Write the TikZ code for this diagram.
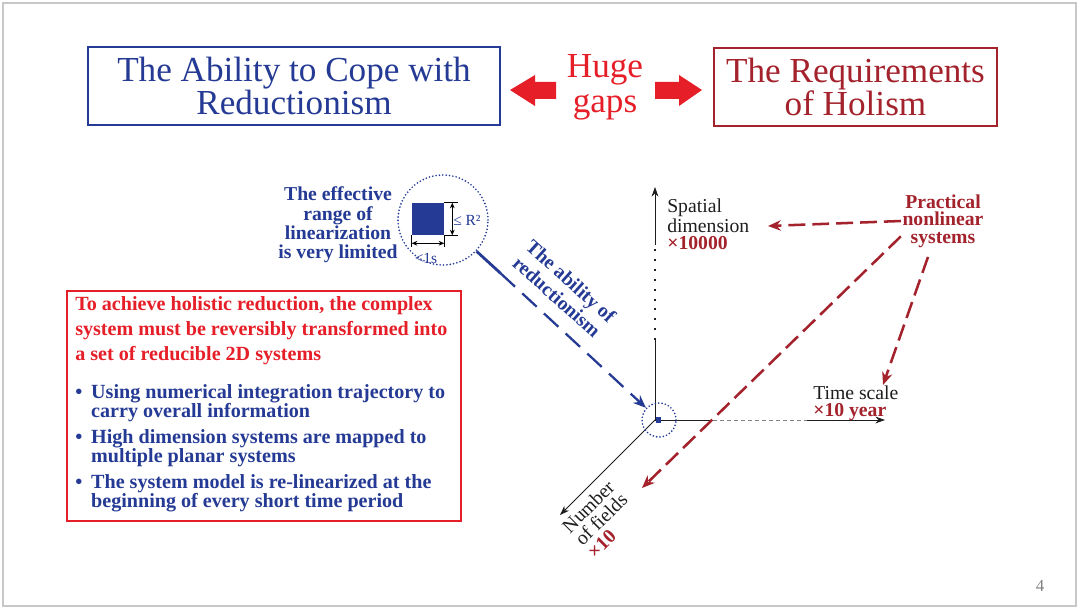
\documentclass[tikz,border=0pt]{standalone}
\usepackage{fontspec}
\setmainfont{Liberation Serif}
\usepackage{tikz}
\usetikzlibrary{arrows.meta, positioning, calc}

\definecolor{reducblue}{RGB}{36, 58, 148}
\definecolor{gapred}{RGB}{230, 30, 40}
\definecolor{holred}{RGB}{163, 34, 44}
\definecolor{framegray}{RGB}{200, 200, 200}
\definecolor{axisgray}{RGB}{30, 30, 30}

\newcommand{\notebullet}{\makebox[11.3pt][l]{•}}
\newcommand{\noteindent}{\hspace*{11.3pt}}

\tikzset{
    titlebox/.style={draw, rectangle, line width=1.5pt, minimum height=1.95cm, inner sep=0pt, align=center, font=\fontsize{25}{24}\selectfont},
    reducbox/.style={titlebox, draw=reducblue, text=reducblue, minimum width=10.3cm},
    holbox/.style={titlebox, draw=holred, text=holred, minimum width=7.075cm},
    notebox/.style={draw=gapred, line width=1.5pt, rectangle, minimum width=9.85cm, minimum height=5.75cm, inner sep=0pt},
    boldlabel/.style={font=\bfseries\fontsize{14}{14}\selectfont, align=center, inner sep=1pt},
    axislabel/.style={font=\fontsize{14}{12}\selectfont, text=axisgray, align=left, inner sep=0pt},
    axisline/.style={-{Stealth[length=2.4mm, width=1.7mm]}, line width=0.6pt, draw=axisgray},
    reddash/.style={-{Stealth[length=3.2mm, width=2.6mm]}, line width=1.8pt, draw=holred, dash pattern=on 12pt off 5pt},
    bluedash/.style={-{Stealth[length=3.2mm, width=2.6mm]}, line width=1.6pt, draw=reducblue, dash pattern=on 14pt off 7pt},
    dotcircle/.style={circle, draw=reducblue, line width=1.3pt, dash pattern=on 0pt off 2.4pt, line cap=round, inner sep=0pt},
    dimarrow/.style={{Stealth[length=1.4mm, width=1.2mm]}-{Stealth[length=1.4mm, width=1.2mm]}, line width=0.5pt},
}

\begin{document}
\begin{tikzpicture}[x=0.025cm, y=-0.025cm]
    \useasboundingbox (0,0) rectangle (1080,610);
    \fill[white] (0,0) rectangle (1080,610);
    \draw[framegray, line width=1pt] (3,3) rectangle (1076,606);

    % Title row
    \node[reducbox] (reduc) at (294,86) {The Ability to Cope with\\Reductionism};
    \node[holbox] (holism) at (855.5,87) {The Requirements\\of Holism};
    \node[font=\fontsize{25}{25}\selectfont, text=gapred, align=center, inner sep=0pt] (gaps) at (605,87) {Huge\\gaps};
    \fill[gapred] (510,90) -- (535,75) -- (535,82) -- (556,82) -- (556,99) -- (535,99) -- (535,106) -- cycle;
    \fill[gapred] (702,90) -- (679,75) -- (679,82) -- (655,82) -- (655,99) -- (679,99) -- (679,106) -- cycle;

    % Conclusion box
    \node[notebox] (note) at (264,406) {};
    \node[anchor=north west, align=left, inner sep=0pt, font=\bfseries\fontsize{14.3}{13.5}\selectfont] (notetext) at (75,296) {%
        \textcolor{gapred}{To achieve holistic reduction, the complex}\\[4.2pt]
        \textcolor{gapred}{system must be reversibly transformed into}\\[4.2pt]
        \textcolor{gapred}{a set of reducible 2D systems}\\[14pt]
        \textcolor{reducblue}{\notebullet Using numerical integration trajectory to}\\
        \textcolor{reducblue}{\noteindent carry overall information}\\[4.9pt]
        \textcolor{reducblue}{\notebullet High dimension systems are mapped to}\\
        \textcolor{reducblue}{\noteindent multiple planar systems}\\[4.9pt]
        \textcolor{reducblue}{\notebullet The system model is re-linearized at the}\\
        \textcolor{reducblue}{\noteindent beginning of every short time period}};

    % Magnifier
    \node[dotcircle, minimum size=2.25cm] (lens) at (443,220) {};
    \node[fill=reducblue, minimum width=0.8cm, minimum height=0.8cm, inner sep=0pt] (patch) at (428,219) {};
    \draw[line width=0.4pt] (patch.north east) -- ++(14,0);
    \draw[line width=0.4pt] (patch.south east) -- ++(14,0);
    \draw[dimarrow] ($(patch.north east)+(8,0)$) -- ($(patch.south east)+(8,0)$);
    \draw[line width=0.4pt] (patch.south west) -- ++(0,12);
    \draw[line width=0.4pt] (patch.south east) -- ++(0,12);
    \draw[dimarrow] ($(patch.south west)+(0,8)$) -- ($(patch.south east)+(0,8)$);
    \node[text=reducblue, font=\fontsize{11}{11}\selectfont, anchor=west, inner sep=0pt] (rlabel) at (453,220) {≤ R²};
    \node[text=reducblue, font=\fontsize{11}{11}\selectfont, inner sep=0pt] (slabel) at (426,258) {<1s};
    \node[boldlabel, text=reducblue, font=\bfseries\fontsize{14}{13.7}\selectfont] (efftext) at (338,225) {The effective\\range of\\linearization\\is very limited};

    % Axes
    \coordinate (origin) at (655,420);
    \coordinate (zlow) at (655,340);
    \coordinate (zhigh) at (655,245);
    \coordinate (ztop) at (655,187);
    \coordinate (xa) at (713,420);
    \coordinate (xb) at (807,420);
    \coordinate (xend) at (885,420);
    \coordinate (yend) at (560,515);
    \draw[line width=0.6pt, axisgray] (origin) -- (zlow);
    \draw[line width=0.9pt, axisgray, dash pattern=on 1.5pt off 5.5pt] (zlow) -- (zhigh);
    \draw[axisline] (zhigh) -- (ztop);
    \draw[line width=0.6pt, axisgray] (origin) -- (xa);
    \draw[line width=0.6pt, gray, dash pattern=on 2.5pt off 2.5pt] (xa) -- (xb);
    \draw[axisline] (xb) -- (xend);
    \draw[axisline] (origin) -- (yend);
    \node[dotcircle, minimum size=0.85cm] (probe) at (659,420) {};
    \node[fill=reducblue, minimum size=0.13cm, inner sep=0pt] (pt) at (658.5,420) {};

    % Axis labels
    \node[axislabel, anchor=north west] (spatial) at (667,199) {Spatial\\dimension\\\textcolor{holred}{\bfseries ×10000}};
    \node[axislabel, anchor=north west] (timelbl) at (813,386) {Time scale\\\textcolor{holred}{\bfseries ×10 year}};
    \node[axislabel, rotate=45, font=\fontsize{14}{12.8}\selectfont] (fields) at (601,519) {Number\\of fields\\\textcolor{holred}{\bfseries ×10}};

    % Reductionism arrow
    \draw[reducblue, line width=2pt] (lens.-43) -- ++(24,22) coordinate (handle);
    \draw[bluedash] (handle) -- (probe.137);
    \node[boldlabel, text=reducblue, rotate=-42, font=\bfseries\fontsize{14}{15}\selectfont] (ability) at (564,289) {The ability of\\reductionism};

    % Nonlinear systems
    \node[boldlabel, text=holred, font=\bfseries\fontsize{14}{12.3}\selectfont] (pract) at (943,221) {Practical\\nonlinear\\systems};
    \coordinate (spattip) at (768,226);
    \coordinate (fieldtip) at (642,488);
    \coordinate (timetip) at (883,385);
    \draw[reddash] (pract.west) -- (spattip);
    \draw[reddash] (pract.200) -- (fieldtip);
    \draw[reddash] ($(pract.south)+(-15,8)$) -- (timetip);

    \node[text=gray, font=\fontsize{12}{12}\selectfont] (pagenum) at (1040,586) {4};
\end{tikzpicture}
\end{document}
